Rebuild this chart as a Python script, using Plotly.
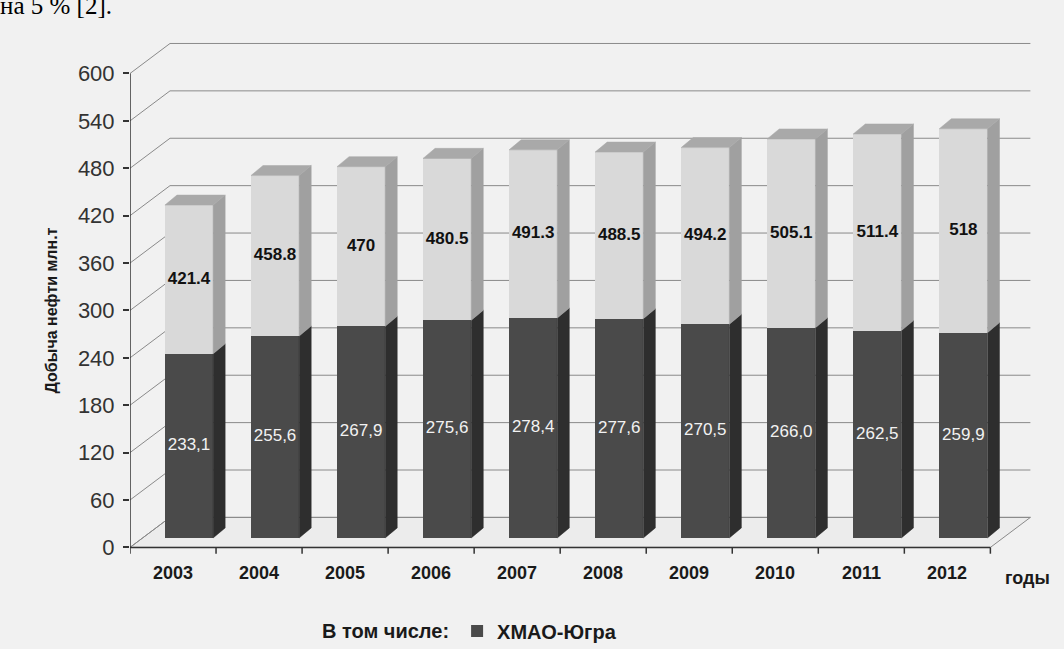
import plotly.graph_objects as go

years = ["2003", "2004", "2005", "2006", "2007", "2008", "2009", "2010", "2011", "2012"]
khmao = [233.1, 255.6, 267.9, 275.6, 278.4, 277.6, 270.5, 266.0, 262.5, 259.9]
total = [421.4, 458.8, 470, 480.5, 491.3, 488.5, 494.2, 505.1, 511.4, 518]
khmao_labels = ["233,1", "255,6", "267,9", "275,6", "278,4", "277,6", "270,5", "266,0", "262,5", "259,9"]
total_labels = ["421.4", "458.8", "470", "480.5", "491.3", "488.5", "494.2", "505.1", "511.4", "518"]
y_ticks = list(range(0, 601, 60))

# pseudo-3D geometry (data units)
n = len(years)
x0 = -0.5
x_front_end = n - 0.5
wall_dx, wall_dy = 0.465, 38      # depth of back wall
bar_dx, bar_dy = 0.186, 12        # where bars stand (set back from front edge)
bw = 0.56                         # bar width
side_dx, side_dy = 0.14, 12.7     # bar depth faces

FONT = "Liberation Sans, Arial, sans-serif"
BG = "#f1f1f1"
GRID = "#8a8a8a"

fig = go.Figure()
shapes = []

# floor (below traces)
shapes.append(dict(
    type="path", xref="x", yref="y", layer="below",
    path=(f"M {x0},0 L {x0 + wall_dx},{wall_dy} L {x_front_end + wall_dx},{wall_dy} "
          f"L {x_front_end},0 Z"),
    fillcolor="#ececec", line=dict(color=GRID, width=1)))
# back-wall grid lines
for v in y_ticks:
    shapes.append(dict(type="path", xref="x", yref="y", layer="below",
                       path=(f"M {x0},{v} L {x0 + wall_dx},{v + wall_dy} "
                             f"L {x_front_end + wall_dx},{v + wall_dy}"),
                       line=dict(color=GRID, width=1)))

# y axis line and front floor edge with category ticks
fig.add_trace(go.Scatter(x=[x0, x0], y=[0, 600], mode="lines",
                         line=dict(color="#333", width=1.5), hoverinfo="skip", showlegend=False))
tx, ty = [x0, x_front_end, None], [0, 0, None]
for k in range(n + 1):
    tx += [x0 + k, x0 + k, None]
    ty += [0, -8, None]
fig.add_trace(go.Scatter(x=tx, y=ty, mode="lines", line=dict(color="#333", width=1.5),
                         hoverinfo="skip", showlegend=False))

xc = [i + bar_dx for i in range(n)]
lower = [bar_dy] * n
upper_base = [bar_dy + d for d in khmao]
light_h = [t - d for t, d in zip(total, khmao)]
tops = [bar_dy + t for t in total]

# front faces
fig.add_trace(go.Bar(
    x=xc, y=khmao, base=lower, width=bw, name="ХМАО-Югра",
    marker=dict(color="#4a4a4a", line=dict(width=0)),
    hoverinfo="skip", showlegend=True))
fig.add_trace(go.Bar(
    x=xc, y=light_h, base=upper_base, width=bw, name="Всего",
    marker=dict(color="#d9d9d9", line=dict(width=0)),
    hoverinfo="skip", showlegend=False))

def side_faces(bottoms, tops_):
    xs, ys = [], []
    for c, b, t in zip(xc, bottoms, tops_):
        r = c + bw / 2
        xs += [r, r + side_dx, r + side_dx, r, r, None]
        ys += [b, b + side_dy, t + side_dy, t, b, None]
    return xs, ys

sx, sy = side_faces(lower, upper_base)
fig.add_trace(go.Scatter(x=sx, y=sy, mode="lines", fill="toself", fillcolor="#2e2e2e",
                         line=dict(color="#2e2e2e", width=0.5), hoverinfo="skip", showlegend=False))
sx, sy = side_faces(upper_base, tops)
fig.add_trace(go.Scatter(x=sx, y=sy, mode="lines", fill="toself", fillcolor="#a0a0a0",
                         line=dict(color="#a0a0a0", width=0.5), hoverinfo="skip", showlegend=False))
# top caps
cx, cy = [], []
for c, t in zip(xc, tops):
    l, r = c - bw / 2, c + bw / 2
    cx += [l, l + side_dx, r + side_dx, r, l, None]
    cy += [t, t + side_dy, t + side_dy, t, t, None]
fig.add_trace(go.Scatter(x=cx, y=cy, mode="lines", fill="toself", fillcolor="#a9a9a9",
                         line=dict(color="#a9a9a9", width=0.5), hoverinfo="skip", showlegend=False))

# value labels (centred in each segment)
fig.add_trace(go.Scatter(
    x=xc, y=[b + d / 2 for b, d in zip(lower, khmao)], mode="text", text=khmao_labels,
    textfont=dict(family=FONT, size=17, color="#f2f2f2"), hoverinfo="skip", showlegend=False))
fig.add_trace(go.Scatter(
    x=xc, y=[b + h / 2 for b, h in zip(upper_base, light_h)], mode="text", text=total_labels,
    textfont=dict(family=FONT, size=17, color="#111", weight="bold"), hoverinfo="skip", showlegend=False))

# category labels
for i, yr in enumerate(years):
    fig.add_annotation(x=i, y=-32, text=f"<b>{yr}</b>", showarrow=False,
                       font=dict(family=FONT, size=18, color="#1a1a1a"))

L, R, T, B = 130, 22, 34, 70
pw, ph = 1064 - L - R, 649 - T - B

def px(xp):
    return (xp - L) / pw

def py(yp):
    return (649 - B - yp) / ph

fig.add_annotation(xref="paper", yref="paper", x=px(1003), y=py(590), xanchor="left",
                   text="<b>годы</b>", showarrow=False,
                   font=dict(family=FONT, size=18, color="#1a1a1a"))
fig.add_annotation(xref="paper", yref="paper", x=px(40), y=py(311), textangle=-90,
                   text="<b>Добыча нефти млн.т</b>", showarrow=False,
                   font=dict(family=FONT, size=16, color="#1a1a1a"))
fig.add_annotation(xref="paper", yref="paper", x=px(-2), y=py(21), xanchor="left", yanchor="bottom",
                   text="на 5 % [2].", showarrow=False,
                   font=dict(family="Liberation Serif, Times New Roman, serif", size=25, color="#000"))

fig.update_layout(
    width=1064, height=649,
    margin=dict(l=L, r=R, t=T, b=B, autoexpand=False),
    paper_bgcolor=BG, plot_bgcolor="rgba(0,0,0,0)",
    barmode="overlay", bargap=0,
    shapes=shapes,
    font=dict(family=FONT, color="#222"),
    xaxis=dict(range=[-0.5, 10.1], visible=False, fixedrange=True),
    yaxis=dict(range=[-40, 650], tickvals=y_ticks, ticktext=[str(v) for v in y_ticks],
               showgrid=False, zeroline=False, showline=False,
               ticks="outside", ticklen=6, tickwidth=1.5, tickcolor="#333",
               ticklabelstandoff=4,
               tickfont=dict(family=FONT, size=22, color="#333"), fixedrange=True),
    legend=dict(orientation="h", x=px(320), y=py(631), xanchor="left", yanchor="middle",
                bgcolor="rgba(0,0,0,0)",
                title=dict(text="В том числе:", font=dict(family=FONT, size=20, color="#1a1a1a", weight="bold")),
                font=dict(family=FONT, size=20, color="#1a1a1a", weight="bold")),
)

fig.write_html("out.html")
